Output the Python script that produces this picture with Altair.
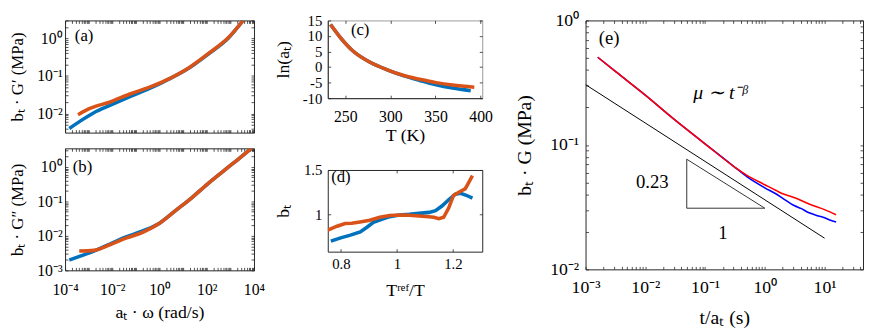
import altair as alt
import pandas as pd

SERIF = "Liberation Serif"
INK = "#262626"
BLUE = "#0072BD"
ORANGE = "#D95319"
TICK = 3

# ---------------- data ----------------
# (a) b_T * G'  versus  a_T * omega
a_blue_w = [1.51e-4, 4.68e-4, 1.66e-3, 8.3e-3, 0.056, 0.38, 1.35, 2.63, 17.8, 120, 832, 3470]
a_blue_g = [3.98e-3, 6.46e-3, 0.0105, 0.0166, 0.0282, 0.0468, 0.0676, 0.0832, 0.162, 0.389, 1.02, 2.99]
a_orng_w = [3.55e-4, 1.2e-3, 8.3e-3, 0.056, 0.38, 2.63, 17.8, 120, 832, 3470]
a_orng_g = [9.3e-3, 0.0138, 0.0204, 0.0331, 0.0501, 0.0851, 0.166, 0.398, 1.05, 2.99]

# (b) b_T * G''  versus  a_T * omega
b_blue_w = [1.51e-4, 4.68e-4, 1.66e-3, 8.32e-3, 0.0295, 0.204, 1.0, 4.9, 24.5, 120, 603, 2950, 7760]
b_blue_g = [2.0e-3, 2.63e-3, 3.63e-3, 5.89e-3, 8.71e-3, 0.0141, 0.0234, 0.055, 0.132, 0.339, 0.832, 2.0, 3.47]
b_orng_w = [3.98e-4, 1.66e-3, 8.32e-3, 0.0407, 0.204, 1.0, 4.9, 24.5, 120, 603, 2950, 7760]
b_orng_g = [3.63e-3, 3.8e-3, 5.62e-3, 8.71e-3, 0.0129, 0.0234, 0.055, 0.132, 0.339, 0.832, 2.0, 3.47]

# (c) ln(a_T) versus T
c_orng_T = [233.6, 244.6, 259.2, 277.5, 295.8, 314.1, 332.4, 350.7, 368.9, 393.0]
c_orng_l = [13.7, 9.5, 5.0, 1.55, -0.8, -2.65, -3.9, -5.0, -5.8, -6.5]
c_blue_T = [233.6, 244.6, 259.2, 277.5, 295.8, 314.1, 332.4, 350.7, 368.9, 389.0]
c_blue_l = [13.7, 9.5, 5.0, 1.55, -0.8, -2.75, -4.3, -5.7, -6.75, -7.6]

# (d) b_T versus T_ref / T
d_blue_x = [0.764, 0.799, 0.834, 0.869, 0.893, 0.916, 0.946, 0.974, 1.009, 1.044, 1.079, 1.115,
            1.138, 1.161, 1.185, 1.209, 1.226, 1.25, 1.27]
d_blue_y = [0.703, 0.74, 0.77, 0.807, 0.859, 0.914, 0.948, 0.977, 0.996, 1.003, 1.014, 1.025,
            1.044, 1.096, 1.167, 1.229, 1.24, 1.214, 1.184]
d_orng_x = [0.753, 0.786, 0.815, 0.839, 0.868, 0.903, 0.939, 0.974, 1.009, 1.044, 1.079, 1.115,
            1.132, 1.15, 1.167, 1.185, 1.202, 1.226, 1.244, 1.255, 1.27]
d_orng_y = [0.826, 0.87, 0.90, 0.903, 0.918, 0.937, 0.97, 0.989, 0.996, 0.992, 0.984, 0.977,
            0.97, 0.955, 0.97, 1.073, 1.214, 1.259, 1.289, 1.351, 1.437]

# (e) b_T * G  versus  t / a_T
e_blue_t = [1.6e-3, 3.16e-3, 0.01, 0.0316, 0.1, 0.316, 0.5, 1.0, 1.55, 2.0, 3.16, 4.0, 5.5, 7.9, 10, 12.5, 15.6]
e_blue_g = [0.506, 0.389, 0.251, 0.158, 0.102, 0.0661, 0.0556, 0.0452, 0.0403, 0.0372, 0.0324, 0.0309,
            0.0285, 0.0269, 0.026, 0.0248, 0.024]
e_red_t = [1.6e-3, 3.16e-3, 0.01, 0.0316, 0.1, 0.316, 0.5, 1.0, 1.55, 2.0, 3.16, 5.5, 10, 15.6]
e_red_g = [0.506, 0.389, 0.251, 0.158, 0.102, 0.0661, 0.0569, 0.0479, 0.043, 0.0405, 0.0376, 0.0335, 0.0302, 0.0275]
e_fit_t = [1e-3, 10]
e_fit_g = [0.305, 0.0178]
e_tri_t = [0.0494, 0.0494, 1.0, 0.0494]
e_tri_g = [0.0767, 0.031, 0.031, 0.0767]

# ---------------- helpers ----------------
SUP = str.maketrans("-0123456789", "⁻⁰¹²³⁴⁵⁶⁷⁸⁹")
PLAIN = "'' + datum.value"


def log_expr(exps):
    s = ""
    for e in exps:
        s += f"abs(log(datum.value)/LN10-({e}))<0.01?'10{str(e).translate(SUP)}':"
    return s + "''"


def log_ticks(lo, hi):
    out = []
    for e in range(-6, 6):
        for m in range(1, 10):
            v = m * 10.0 ** e
            if lo * 0.9999 <= v <= hi * 1.0001:
                out.append(v)
    return out


def ax(orient, values, expr=None, labels=True, title=None, lsize=16, tsize=18, lpad=4, ext=0):
    kw = dict(orient=orient, values=values, offset=-TICK, tickSize=TICK, tickColor=INK, tickWidth=0.8,
              domain=False, grid=False, labels=labels, labelFlush=False, labelOverlap=False,
              labelFont=SERIF, labelFontSize=lsize, labelColor="black", labelPadding=lpad,
              titleFont=SERIF, titleFontSize=tsize, titleFontWeight="normal", titleColor="black",
              titlePadding=0, minExtent=ext, maxExtent=ext, title=title)
    if expr:
        kw["labelExpr"] = expr
    return alt.Axis(**kw)


def edge(orient):
    # plain dark border line along one side of the frame, no ticks and no labels
    return alt.Axis(orient=orient, domain=True, domainColor=INK, domainWidth=1, ticks=False,
                    labels=False, grid=False, title=None, minExtent=0, maxExtent=0)


def panel(series, texts, xsc, ysc, xax, yax, xtop, yright, w, h, sp, frame=INK, dark_edges=False):
    layers = []
    for i, (xs, ys, col, sw, interp) in enumerate(series):
        df = pd.DataFrame({"x": xs, "y": ys, "o": list(range(len(xs)))})
        layers.append(
            alt.Chart(df).mark_line(color=col, strokeWidth=sw, clip=True, interpolate=interp).encode(
                x=alt.X("x:Q", scale=xsc, axis=xax if i == 0 else None),
                y=alt.Y("y:Q", scale=ysc, axis=yax if i == 0 else None),
                order="o:Q"))
    xs, ys = series[0][0], series[0][1]
    layers.append(
        alt.Chart(pd.DataFrame({"x": xs, "y": ys})).mark_line(opacity=0).encode(
            x=alt.X("x:Q", scale=xsc, axis=xtop), y=alt.Y("y:Q", scale=ysc, axis=yright)))
    if dark_edges:
        layers.append(
            alt.Chart(pd.DataFrame({"x": xs, "y": ys})).mark_line(opacity=0).encode(
                x=alt.X("x:Q", scale=xsc, axis=edge("bottom")), y=alt.Y("y:Q", scale=ysc, axis=edge("left"))))
    for (tx, ty, s, size, style) in texts:
        layers.append(
            alt.Chart(pd.DataFrame({"x": [tx], "y": [ty], "t": [s]})).mark_text(
                font=SERIF, fontSize=size, fontStyle=style, color="black", align="center",
                baseline="middle").encode(
                x=alt.X("x:Q", scale=xsc, axis=None), y=alt.Y("y:Q", scale=ysc, axis=None), text="t:N"))
    # invisible layout guide: fixes how much room the panel reserves around its frame
    layers.append(
        alt.Chart(pd.DataFrame({"k": [0]})).mark_rule(opacity=0, strokeWidth=0.1).encode(
            x=alt.value(sp[0]), y=alt.value(sp[1]), x2=alt.value(sp[2]), y2=alt.value(sp[3])))
    return (alt.layer(*layers).resolve_axis(x="independent", y="independent")
            .properties(width=w, height=h, view=alt.ViewBackground(stroke=frame, strokeWidth=1)))


# ---------------- panel (a) ----------------
W1 = 192
HA = 114
ax_dom_x = [1e-4, 1e4]
a_ydom = [3.1e-3, 3.0]
xs_ab = alt.Scale(type="log", domain=ax_dom_x, nice=False)
a_ys = alt.Scale(type="log", domain=a_ydom, nice=False)
xt_ab = log_ticks(*ax_dom_x)
pa = panel(
    [(a_blue_w, a_blue_g, BLUE, 3.6, "monotone"), (a_orng_w, a_orng_g, ORANGE, 3.6, "monotone")],
    [(6.4e-4, 1.14, "(a)", 17, "normal")],
    xs_ab, a_ys,
    ax("bottom", xt_ab, labels=False),
    ax("left", log_ticks(*a_ydom), expr=log_expr([-2, -1, 0]), title="bₜ · G′ (MPa)", tsize=17, lpad=3, ext=42),
    ax("top", xt_ab, labels=False), ax("right", log_ticks(*a_ydom), labels=False),
    W1, HA, (-56, -9, 211, HA + 7))

# ---------------- panel (b) ----------------
HB = 124
b_ydom = [1e-3, 3.47]
b_ys = alt.Scale(type="log", domain=b_ydom, nice=False)
pb = panel(
    [(b_blue_w, b_blue_g, BLUE, 3.6, "monotone"), (b_orng_w, b_orng_g, ORANGE, 3.6, "monotone")],
    [(5.5e-4, 1.0, "(b)", 17, "normal")],
    xs_ab, b_ys,
    ax("bottom", xt_ab, expr=log_expr([-4, -2, 0, 2, 4]), title="aₜ · ω (rad/s)", lpad=12, ext=37),
    ax("left", log_ticks(*b_ydom), expr=log_expr([-3, -2, -1, 0]), title="bₜ · G″ (MPa)", tsize=17, lpad=3, ext=42),
    ax("top", xt_ab, labels=False), ax("right", log_ticks(*b_ydom), labels=False),
    W1, HB, (-56, -7, 211, HB))

# ---------------- panel (c) ----------------
W2 = 157
HC = 79
c_xdom = [230.6, 401.8]
c_ydom = [-10, 15]
c_xt = [250, 300, 350, 400]
c_yt = [-10, -5, 0, 5, 10, 15]
c_xs = alt.Scale(domain=c_xdom, nice=False, zero=False)
c_ys = alt.Scale(domain=c_ydom, nice=False, zero=False)
pc = panel(
    [(c_blue_T, c_blue_l, BLUE, 3.6, "monotone"), (c_orng_T, c_orng_l, ORANGE, 3.6, "monotone")],
    [(266.5, 11.85, "(c)", 17, "normal")],
    c_xs, c_ys,
    ax("bottom", c_xt, expr=PLAIN, title="T (K)", lpad=11, ext=32),
    ax("left", c_yt, expr=PLAIN, title="ln(aₜ)", lsize=15, lpad=6, ext=39),
    ax("top", c_xt, labels=False), ax("right", c_yt, labels=False),
    W2, HC, (-54, -17, 173, HC + 50), frame="#9A9A9A", dark_edges=True)

# ---------------- panel (d) ----------------
HD = 83
d_xdom = [0.753, 1.305]
d_ydom = [0.585, 1.5]
d_xt = [0.8, 1.0, 1.2]
d_yt = [1.0, 1.5]
d_xs = alt.Scale(domain=d_xdom, nice=False, zero=False)
d_ys = alt.Scale(domain=d_ydom, nice=False, zero=False)
pd_ = panel(
    [(d_blue_x, d_blue_y, BLUE, 3.6, "linear"), (d_orng_x, d_orng_y, ORANGE, 3.6, "linear")],
    [(0.8, 1.426, "(d)", 17, "normal")],
    d_xs, d_ys,
    ax("bottom", d_xt, expr=PLAIN, title="Tʳᵉᶠ/T", lsize=15, lpad=5, ext=34),
    ax("left", d_yt, expr=PLAIN, title="bₜ", lsize=15, lpad=6, ext=39),
    ax("top", d_xt, labels=False), ax("right", d_yt, labels=False),
    W2, HD, (-54, -10, 173, HD))

# ---------------- panel (e) ----------------
HE = 253
e_xdom = [1e-3, 44]
e_ydom = [0.01, 1]
e_xs = alt.Scale(type="log", domain=e_xdom, nice=False)
e_ys = alt.Scale(type="log", domain=e_ydom, nice=False)
pe = panel(
    [(e_blue_t, e_blue_g, "#0000FF", 1.6, "monotone"), (e_red_t, e_red_g, "#FF0000", 1.6, "monotone"),
     (e_fit_t, e_fit_g, "#000000", 1.0, "linear"), (e_tri_t, e_tri_g, "#333333", 1.0, "linear")],
    [(0.00248, 0.726, "(e)", 19, "normal"), (0.179, 0.263, "μ ∼ t⁻ᵝ", 20, "italic"),
     (0.0131, 0.0503, "0.23", 19, "normal"), (0.1986, 0.0195, "1", 19, "normal")],
    e_xs, e_ys,
    ax("bottom", log_ticks(*e_xdom), expr=log_expr([-3, -2, -1, 0, 1]), title="t/aₜ (s)",
       lsize=18, tsize=20, lpad=10, ext=42),
    ax("left", log_ticks(*e_ydom), expr=log_expr([-2, -1, 0]), title="bₜ · G (MPa)",
       lsize=18, tsize=20, lpad=7, ext=55),
    ax("top", log_ticks(*e_xdom), labels=False), ax("right", log_ticks(*e_ydom), labels=False),
    282, HE, (-87, -9, 282, HE))

col1 = alt.vconcat(pa, pb, spacing=0)
col2 = alt.vconcat(pc, pd_, spacing=11)
chart = (
    alt.hconcat(col1, col2, pe, spacing=0)
    .properties(padding={"left": 0, "top": -8, "right": 0, "bottom": 0}, background="white")
    .configure_view(stroke=INK, strokeWidth=1)
)
chart.save("out.html", embed_options={"renderer": "svg", "actions": False})
